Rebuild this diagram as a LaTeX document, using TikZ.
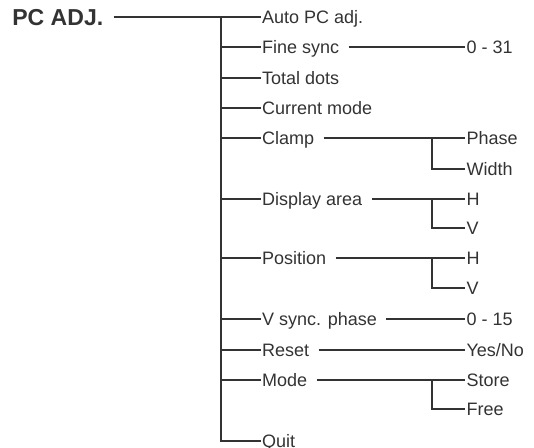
\documentclass[tikz,border=0pt]{standalone}
\usepackage{fontspec}
\setmainfont{Liberation Sans}
\usepackage{xcolor}
\usepackage{tikz}
\usetikzlibrary{positioning, calc}

\begin{document}
\begin{tikzpicture}[
    x=0.75pt, y=-0.75pt,
    menu/.style={anchor=west, inner sep=1pt, text height=9.7pt,
                 text depth=0pt, text=black!80,
                 font=\fontsize{13.5}{16}\selectfont},
    garis/.style={line width=0.9pt, draw=black!80},
    sambung/.style={garis, shorten <=6pt}
  ]
    \useasboundingbox (0,0) rectangle (534,448);

    \node[menu, inner sep=0pt, text height=12.4pt,
          font=\fontsize{17.3}{20}\selectfont\bfseries] (pcadj) at (12,17) {PC ADJ.};
    \coordinate (pojok) at (221,17);

    \node[menu] (auto) at (260.5,17) {Auto PC adj.};
    \node[menu] (fine) at (260.5,47) {Fine sync};
    \node[menu] (total) at (260.5,78) {Total dots};
    \node[menu] (current) at (260.5,108) {Current mode};
    \node[menu] (clamp) at (260.5,138) {Clamp};
    \node[menu] (display) at (260.5,199) {Display area};
    \node[menu] (position) at (260.5,258) {Position};
    \node[menu] (vsync) at (260.5,319) {V sync. phase};
    \node[menu] (reset) at (260.5,350) {Reset};
    \node[menu] (mode) at (260.5,380) {Mode};
    \node[menu] (quit) at (260.5,441) {Quit};

    \node[menu] (fine31) at (465,47) {0 - 31};
    \node[menu] (phase) at (465,138) {Phase};
    \node[menu] (width) at (465,169) {Width};
    \node[menu] (disph) at (465,199) {H};
    \node[menu] (dispv) at (465,228) {V};
    \node[menu] (posh) at (465,258) {H};
    \node[menu] (posv) at (465,288) {V};
    \node[menu] (vsync15) at (465,319) {0 - 15};
    \node[menu] (yesno) at (465,350) {Yes/No};
    \node[menu] (store) at (465,380) {Store};
    \node[menu] (free) at (465,409) {Free};

    % batang utama
    \draw[garis, shorten <=7.5pt] (pcadj.east) -- (auto.west);
    \draw[garis] (pojok) |- (quit.west);
    \draw[garis] (pojok |- fine.west) -- (fine.west);
    \draw[garis] (pojok |- total.west) -- (total.west);
    \draw[garis] (pojok |- current.west) -- (current.west);
    \draw[garis] (pojok |- clamp.west) -- (clamp.west);
    \draw[garis] (pojok |- display.west) -- (display.west);
    \draw[garis] (pojok |- position.west) -- (position.west);
    \draw[garis] (pojok |- vsync.west) -- (vsync.west);
    \draw[garis] (pojok |- reset.west) -- (reset.west);
    \draw[garis] (pojok |- mode.west) -- (mode.west);

    % cabang kedua
    \draw[sambung] (fine.east) -- (fine31.west);
    \draw[sambung] (clamp.east) -- (phase.west);
    \draw[sambung] (display.east) -- (disph.west);
    \draw[sambung] (position.east) -- (posh.west);
    \draw[sambung] (vsync.east) -- (vsync15.west);
    \draw[sambung] (reset.east) -- (yesno.west);
    \draw[sambung] (mode.east) -- (store.west);
    \draw[garis] (432,0 |- phase.west) |- (width.west);
    \draw[garis] (432,0 |- disph.west) |- (dispv.west);
    \draw[garis] (432,0 |- posh.west) |- (posv.west);
    \draw[garis] (432,0 |- store.west) |- (free.west);
  \end{tikzpicture}
\end{document}
